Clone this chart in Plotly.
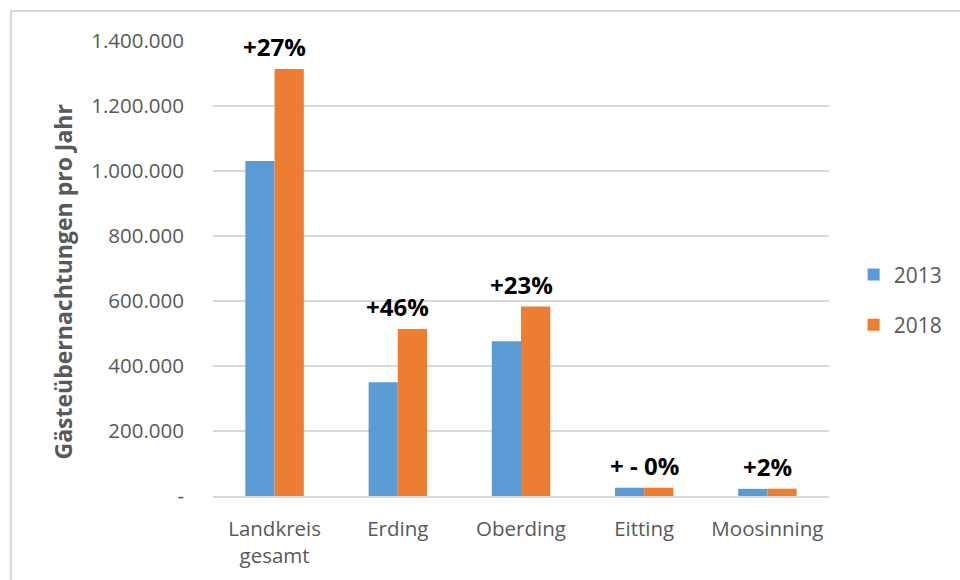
import plotly.graph_objects as go

categories = ["Landkreis<br>gesamt", "Erding", "Oberding", "Eitting", "Moosinning"]
values_2013 = [1031000, 350000, 476000, 25500, 22000]
values_2018 = [1314000, 514000, 583000, 25500, 22500]
change_labels = ["+27%", "+46%", "+23%", "+ - 0%", "+2%"]
series_names = ["2013", "2018"]
y_tickvals = [0, 200000, 400000, 600000, 800000, 1000000, 1200000, 1400000]
y_ticktext = ["-", "200.000", "400.000", "600.000", "800.000", "1.000.000", "1.200.000", "1.400.000"]
y_title = "Gästeübernachtungen pro Jahr"

BLUE = "#5B9BD5"
ORANGE = "#ED7D31"
GRAY_TXT = "#595959"
GRID = "#D9D9D9"
FONT = "Open Sans"

fig = go.Figure()
fig.add_trace(go.Bar(x=categories, y=values_2013, name=series_names[0],
                     marker=dict(color=BLUE, line=dict(width=0)), legendgroup="a"))
fig.add_trace(go.Bar(x=categories, y=values_2018, name=series_names[1],
                     marker=dict(color=ORANGE, line=dict(width=0)), legendgroup="b"))

for cat, a, b, lab in zip(categories, values_2013, values_2018, change_labels):
    fig.add_annotation(x=cat, y=max(a, b), text=lab, showarrow=False,
                       yanchor="middle", yshift=22,
                       font=dict(family=FONT, size=24, color="#000000", weight="bold"))

fig.add_annotation(xref="paper", yref="paper", x=-0.243, y=0.47, text=y_title,
                   textangle=-90, showarrow=False, xanchor="center", yanchor="middle",
                   font=dict(family=FONT, size=23, color=GRAY_TXT, weight="bold"))

fig.add_shape(type="rect", xref="paper", yref="paper",
              x0=-0.328, y0=1.066, x1=1.25, y1=-0.25,
              line=dict(color=GRID, width=2), fillcolor="rgba(0,0,0,0)", layer="below")

fig.update_layout(
    width=960, height=580,
    margin=dict(l=213, r=125, t=41, b=84),
    paper_bgcolor="white", plot_bgcolor="white",
    barmode="group", bargap=0.526, bargroupgap=0,
    font=dict(family=FONT, size=20, color=GRAY_TXT),
    showlegend=True,
    legend=dict(x=1.04, y=0.431, xanchor="left", yanchor="middle",
                traceorder="grouped", tracegroupgap=20,
                font=dict(family=FONT, size=21, color=GRAY_TXT),
                bgcolor="rgba(0,0,0,0)"),
    xaxis=dict(showgrid=False, showline=True, linecolor=GRID, linewidth=1.5,
               ticks="", tickfont=dict(family=FONT, size=20.5, color=GRAY_TXT),
               ticklabelstandoff=14),
    yaxis=dict(range=[0, 1400000], tickvals=y_tickvals, ticktext=y_ticktext,
               showgrid=True, gridcolor=GRID, gridwidth=1.5, zeroline=False,
               showline=False, ticks="", ticklabelstandoff=28,
               tickfont=dict(family=FONT, size=20.5, color=GRAY_TXT)),
)

fig.write_html("out.html")
